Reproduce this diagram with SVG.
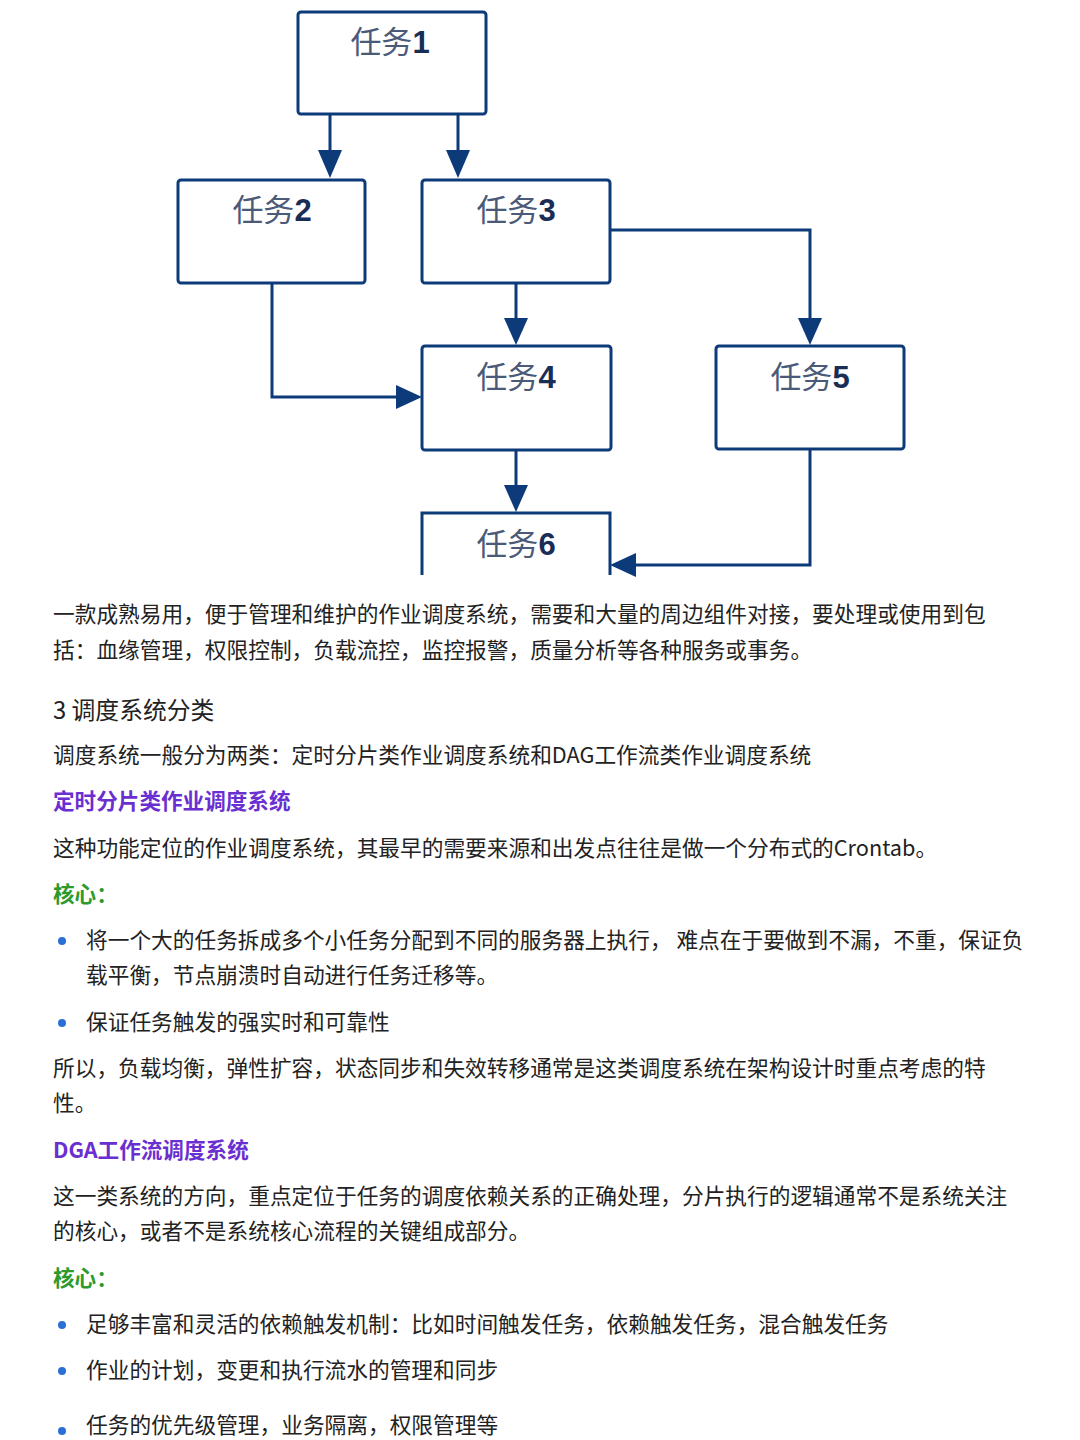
<svg xmlns="http://www.w3.org/2000/svg" width="1080" height="1440" viewBox="0 0 1080 1440">
<defs>
<style>
.box{fill:#fff;stroke:#0d3a78;stroke-width:3}
.lbl{font-family:"Liberation Sans","Noto Sans CJK SC",sans-serif;font-size:31px;fill:#4a5a78;text-anchor:middle}
.lbl tspan{font-weight:bold;fill:#1a2d55}
.con{fill:none;stroke:#0d3a78;stroke-width:3}
.ah{fill:#0d3a78}
.t{font-family:"Noto Sans CJK SC","Noto Sans",sans-serif;font-size:21.7px;fill:#222}
.h{font-family:"Noto Sans CJK SC",sans-serif;font-size:21.6px;font-weight:bold}
</style>
</defs>
<rect width="1080" height="1440" fill="#fff"/>
<g id="connectors">
<path class="con" d="M330,114 V150"/>
<path class="ah" d="M318,150 L330,178 L342,150Z"/>
<path class="con" d="M458,114 V150"/>
<path class="ah" d="M446,150 L458,178 L470,150Z"/>
<path class="con" d="M516,283 V318"/>
<path class="ah" d="M504,318 L516,345 L528,318Z"/>
<path class="con" d="M610,230 H810 V318"/>
<path class="ah" d="M798,318 L810,345 L822,318Z"/>
<path class="con" d="M272,283 V397 H396"/>
<path class="ah" d="M396,385 L422,397 L396,409Z"/>
<path class="con" d="M516,450 V485"/>
<path class="ah" d="M504,485 L516,512 L528,485Z"/>
<path class="con" d="M810,449 V565 H636"/>
<path class="ah" d="M636,553 L610,565 L636,577Z"/>
</g>
<g id="n1"><rect class="box" x="298" y="12" width="188" height="102" rx="3"/><text class="lbl" x="390" y="53">任务<tspan>1</tspan></text></g>
<g id="n2"><rect class="box" x="178" y="180" width="187" height="103" rx="3"/><text class="lbl" x="272" y="221">任务<tspan>2</tspan></text></g>
<g id="n3"><rect class="box" x="422" y="180" width="188" height="103" rx="3"/><text class="lbl" x="516" y="221">任务<tspan>3</tspan></text></g>
<g id="n4"><rect class="box" x="422" y="346" width="189" height="104" rx="3"/><text class="lbl" x="516" y="388">任务<tspan>4</tspan></text></g>
<g id="n5"><rect class="box" x="716" y="346" width="188" height="103" rx="3"/><text class="lbl" x="810" y="388">任务<tspan>5</tspan></text></g>
<g id="n6"><path d="M422,575 V513 H610 V575" fill="#fff" stroke="#0d3a78" stroke-width="3"/><text class="lbl" x="516" y="555">任务<tspan>6</tspan></text></g>
<g id="text">
<text class="t" x="53" y="622">一款成熟易用，便于管理和维护的作业调度系统，需要和大量的周边组件对接，要处理或使用到包</text>
<text class="t" x="53" y="658">括：血缘管理，权限控制，负载流控，监控报警，质量分析等各种服务或事务。</text>
<text class="t" x="53" y="719" style="font-size:23.8px">3 调度系统分类</text>
<text class="t" x="53" y="763">调度系统一般分为两类：定时分片类作业调度系统和DAG工作流类作业调度系统</text>
<text class="h" x="53" y="809" fill="#6a2fd0">定时分片类作业调度系统</text>
<text class="t" x="53" y="856">这种功能定位的作业调度系统，其最早的需要来源和出发点往往是做一个分布式的Crontab。</text>
<text class="h" x="53" y="902" fill="#2e9a2e">核心：</text>
<circle cx="62" cy="941" r="4" fill="#2b6fd6"/>
<text class="t" x="86" y="948">将一个大的任务拆成多个小任务分配到不同的服务器上执行， 难点在于要做到不漏，不重，保证负</text>
<text class="t" x="86" y="983">载平衡，节点崩溃时自动进行任务迁移等。</text>
<circle cx="62" cy="1023" r="4" fill="#2b6fd6"/>
<text class="t" x="86" y="1030">保证任务触发的强实时和可靠性</text>
<text class="t" x="53" y="1076">所以，负载均衡，弹性扩容，状态同步和失效转移通常是这类调度系统在架构设计时重点考虑的特</text>
<text class="t" x="53" y="1111">性。</text>
<text class="h" x="53" y="1158" fill="#6a2fd0">DGA工作流调度系统</text>
<text class="t" x="53" y="1204">这一类系统的方向，重点定位于任务的调度依赖关系的正确处理，分片执行的逻辑通常不是系统关注</text>
<text class="t" x="53" y="1239">的核心，或者不是系统核心流程的关键组成部分。</text>
<text class="h" x="53" y="1286" fill="#2e9a2e">核心：</text>
<circle cx="62" cy="1325" r="4" fill="#2b6fd6"/>
<text class="t" x="86" y="1332">足够丰富和灵活的依赖触发机制：比如时间触发任务，依赖触发任务，混合触发任务</text>
<circle cx="62" cy="1371" r="4" fill="#2b6fd6"/>
<text class="t" x="86" y="1378">作业的计划，变更和执行流水的管理和同步</text>
<circle cx="62" cy="1431" r="4" fill="#2b6fd6"/>
<text class="t" x="86" y="1433">任务的优先级管理，业务隔离，权限管理等</text>
</g>
</svg>
